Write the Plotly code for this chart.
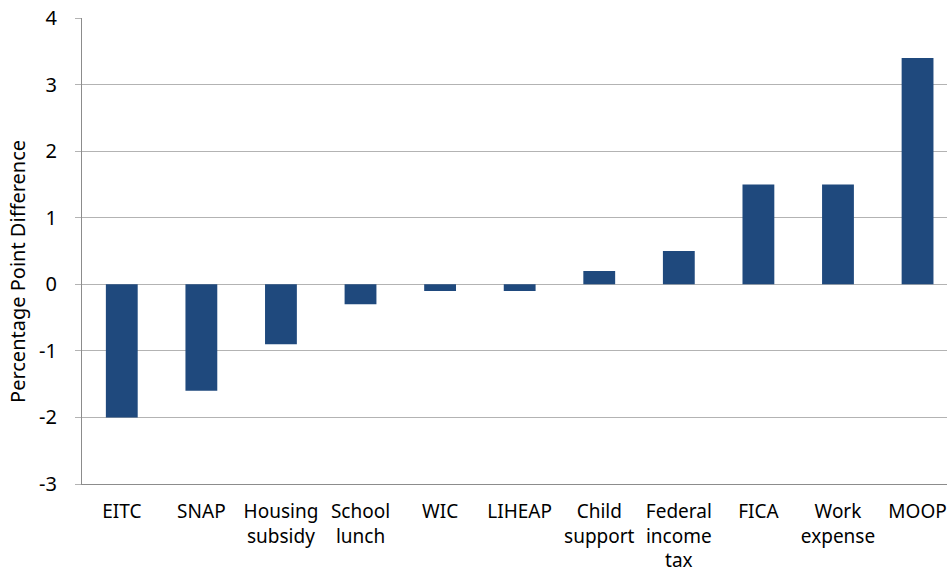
import plotly.graph_objects as go

categories = ["EITC", "SNAP", "Housing<br>subsidy", "School<br>lunch", "WIC", "LIHEAP",
              "Child<br>support", "Federal<br>income<br>tax", "FICA", "Work<br>expense", "MOOP"]
values = [-2.0, -1.6, -0.9, -0.3, -0.1, -0.1, 0.2, 0.5, 1.5, 1.5, 3.4]
y_ticks = [-3, -2, -1, 0, 1, 2, 3, 4]
y_tick_labels = ["-3", "-2", "-1", "0", "1", "2", "3", "4"]
y_title = "Percentage Point Difference"

font = "Noto Sans"
fig = go.Figure(go.Bar(x=categories, y=values, marker_color="#1F497D",
                       marker_line_width=0))
fig.update_layout(
    width=947, height=578,
    margin=dict(l=82, r=0, t=18, b=94, autoexpand=False),
    plot_bgcolor="white", paper_bgcolor="white",
    bargap=0.6,
    showlegend=False,
    font=dict(family=font, size=19, color="black"),
)
fig.update_xaxes(showline=True, linecolor="#8C8C8C", linewidth=1, ticks="",
                 range=[-0.5, 10.37],
                 tickfont=dict(size=19), ticklabelstandoff=10)
fig.update_yaxes(range=[-3, 4], tickvals=y_ticks, ticktext=y_tick_labels,
                 showgrid=True, gridcolor="#B3B3B3",
                 gridwidth=1, zeroline=False, showline=True, linecolor="#8C8C8C",
                 linewidth=1, ticks="outside", ticklen=6, tickcolor="#B3B3B3",
                 tickfont=dict(size=20), ticklabelstandoff=14)
fig.add_annotation(text=y_title, textangle=-90, xref="paper", yref="paper",
                   x=-64 / 865, y=0.455, xanchor="center", yanchor="middle",
                   showarrow=False, font=dict(size=20))
fig.write_html("out.html", config={"displayModeBar": False},
               post_script="document.body.style.margin='0';")
